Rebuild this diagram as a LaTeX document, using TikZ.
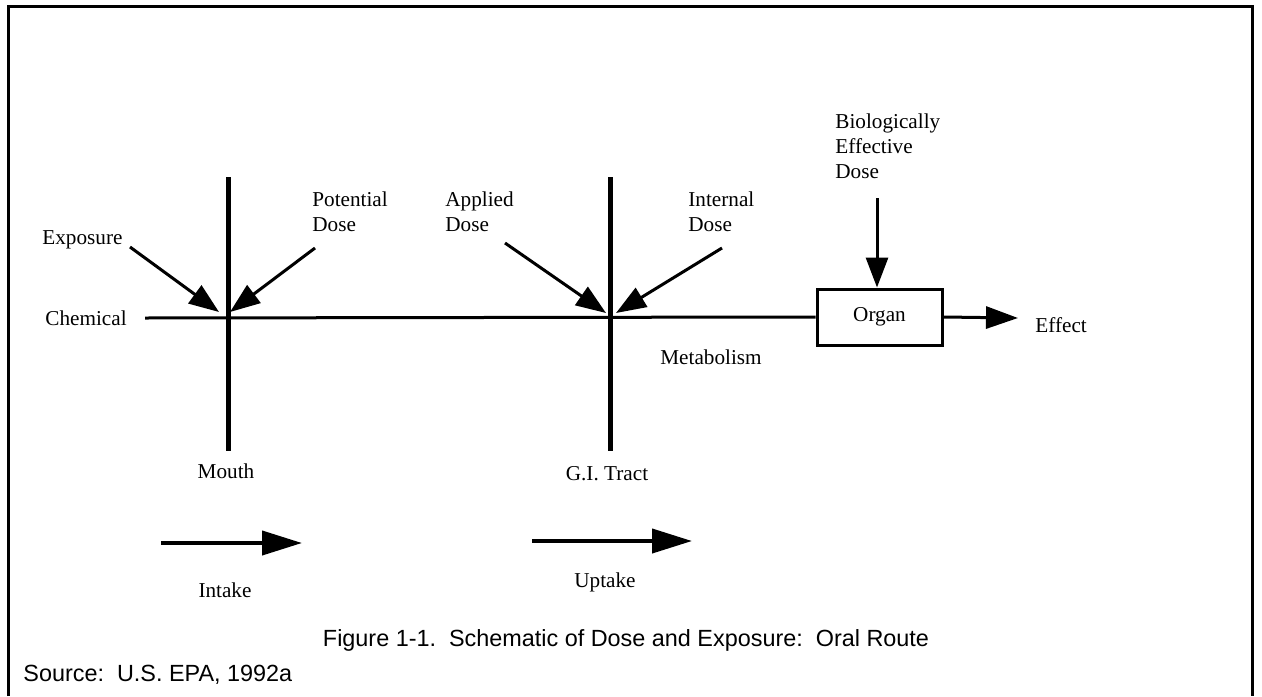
\documentclass[tikz,border=0pt]{standalone}
\usepackage{fontspec}
\setmainfont{Liberation Serif}
\newfontfamily\capfont{Liberation Sans}
\usetikzlibrary{positioning}
\usetikzlibrary{arrows.meta}

\begin{document}
\begin{tikzpicture}[x=0.5pt,y=-0.5pt,
  lbl/.style={font=\fontsize{10.6}{12.5}\selectfont, inner sep=0pt, align=left},
  captext/.style={font=\capfont\fontsize{11.7}{14}\selectfont, inner sep=0pt},
  wall/.style={line width=2.5pt},
  feed/.style={line width=1.5pt, -{Triangle[length=15pt,width=11pt]}},
  flow/.style={line width=2pt, -{Triangle[length=20pt,width=12pt]}},
  organbox/.style={draw, line width=1.5pt, minimum width=62.5pt, minimum height=28pt, inner sep=0pt, font=\fontsize{10.6}{12.5}\selectfont}]
 % frame (bottom edge falls outside the page)
 \useasboundingbox (0,0) rectangle (1262,696);
 \draw[line width=1.5pt] (8,696) -- (8,6) -- (1252,6) -- (1252,696);

 % barriers
 \coordinate (mtop) at (228,177);
 \coordinate (mbot) at (228,451);
 \coordinate (gtop) at (610,177);
 \coordinate (gbot) at (610,451);
 \draw[wall] (mtop) -- (mbot);
 \draw[wall] (gtop) -- (gbot);

 % main line and organ
 \node[organbox] (organ) at (879.5,317) {Organ};
 \coordinate (chemend) at (145,318);
 \coordinate (effend) at (1018,318);
 \draw[line width=1.5pt] (chemend) -- (organ.west);
 \draw[feed, -{Triangle[length=16pt,width=11pt]}] (organ.east) -- (effend);

 % labels
 \node[lbl, anchor=west] (chem) at (45,318) {Chemical};
 \node[lbl, anchor=west] (expo) at (42,240) {Exposure};
 \node[lbl, anchor=west] (pot) at (312,211.5) {Potential\\Dose};
 \node[lbl, anchor=west] (appl) at (445,211.5) {Applied\\Dose};
 \node[lbl, anchor=west] (intl) at (688,211.5) {Internal\\Dose};
 \node[lbl, anchor=west] (bio) at (835,146) {Biologically\\Effective\\Dose};
 \node[lbl, anchor=west] (eff) at (1035,325) {Effect};
 \node[lbl] (metab) at (711,357) {Metabolism};
 \node[lbl] (mouth) at (226,471) {Mouth};
 \node[lbl] (gitract) at (607,474) {G.I. Tract};
 \node[lbl] (intake) at (225,590) {Intake};
 \node[lbl] (uptake) at (605,582) {Uptake};

 % dose arrows
 \coordinate (e1) at (130,247);  \coordinate (e2) at (219,312);
 \coordinate (p1) at (315,248);  \coordinate (p2) at (230,312);
 \coordinate (a1) at (505,243);  \coordinate (a2) at (606,313);
 \coordinate (i1) at (722,248);  \coordinate (i2) at (616,313);
 \coordinate (b1) at (877,198);
 \draw[feed] (e1) -- (e2);
 \draw[feed] (p1) -- (p2);
 \draw[feed] (a1) -- (a2);
 \draw[feed] (i1) -- (i2);
 \draw[feed] (b1) -- (organ.north -| b1);

 % route arrows
 \coordinate (in1) at (161,543);  \coordinate (in2) at (302,543);
 \coordinate (up1) at (532,541);  \coordinate (up2) at (692,541);
 \draw[flow] (in1) -- (in2);
 \draw[flow] (up1) -- (up2);

 % caption
 \node[captext] (title) at (626,640) {Figure 1-1.\ \ Schematic of Dose and Exposure:\ \ Oral Route};
 \node[captext, anchor=west] (source) at (23,675) {Source:\ \ U.S. EPA, 1992a};
\end{tikzpicture}
\end{document}
